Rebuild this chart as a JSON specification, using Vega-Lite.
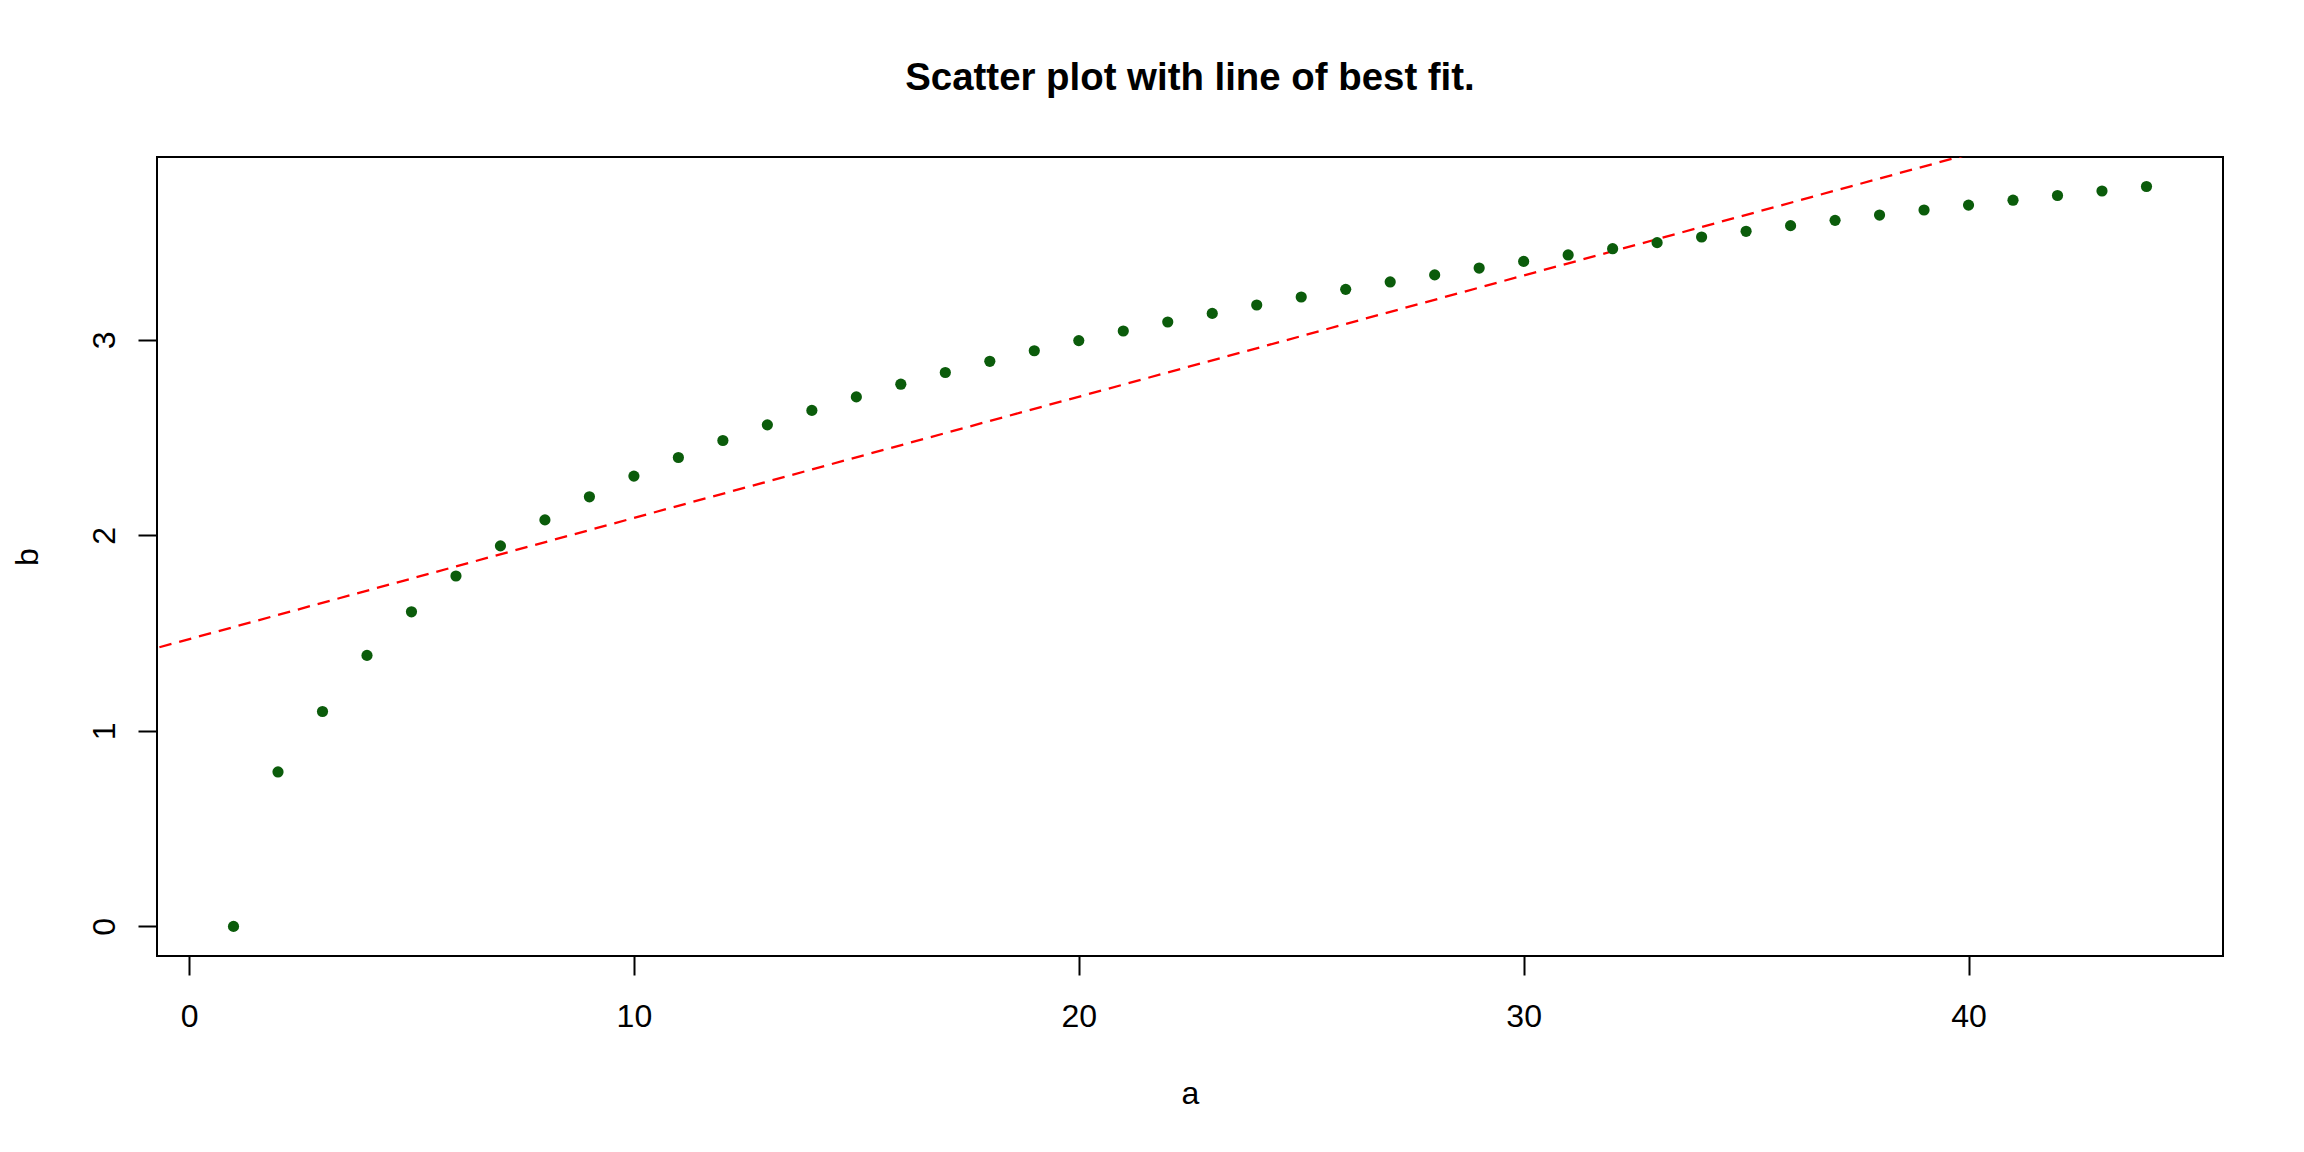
{
  "$schema": "https://vega.github.io/schema/vega-lite/v6.json",
  "description": "Scatter plot of b against a with a dashed line of best fit.",
  "autosize": "none",
  "width": 2066,
  "height": 799,
  "padding": {"left": 157, "top": 157, "right": 81, "bottom": 196},
  "background": "white",
  "title": {
    "text": "Scatter plot with line of best fit.",
    "font": "Liberation Sans",
    "fontSize": 38.4,
    "fontWeight": "bold",
    "color": "black",
    "anchor": "middle",
    "frame": "group",
    "baseline": "alphabetic",
    "offset": 29
  },
  "datasets": {
    "points": [
      {"a": 1, "b": 0},
      {"a": 2, "b": 0.79},
      {"a": 3, "b": 1.099},
      {"a": 4, "b": 1.386},
      {"a": 5, "b": 1.609},
      {"a": 6, "b": 1.792},
      {"a": 7, "b": 1.946},
      {"a": 8, "b": 2.079},
      {"a": 9, "b": 2.197},
      {"a": 10, "b": 2.303},
      {"a": 11, "b": 2.398},
      {"a": 12, "b": 2.485},
      {"a": 13, "b": 2.565},
      {"a": 14, "b": 2.639},
      {"a": 15, "b": 2.708},
      {"a": 16, "b": 2.773},
      {"a": 17, "b": 2.833},
      {"a": 18, "b": 2.89},
      {"a": 19, "b": 2.944},
      {"a": 20, "b": 2.996},
      {"a": 21, "b": 3.045},
      {"a": 22, "b": 3.091},
      {"a": 23, "b": 3.135},
      {"a": 24, "b": 3.178},
      {"a": 25, "b": 3.219},
      {"a": 26, "b": 3.258},
      {"a": 27, "b": 3.296},
      {"a": 28, "b": 3.332},
      {"a": 29, "b": 3.367},
      {"a": 30, "b": 3.401},
      {"a": 31, "b": 3.434},
      {"a": 32, "b": 3.466},
      {"a": 33, "b": 3.497},
      {"a": 34, "b": 3.526},
      {"a": 35, "b": 3.555},
      {"a": 36, "b": 3.584},
      {"a": 37, "b": 3.611},
      {"a": 38, "b": 3.638},
      {"a": 39, "b": 3.664},
      {"a": 40, "b": 3.689},
      {"a": 41, "b": 3.714},
      {"a": 42, "b": 3.738},
      {"a": 43, "b": 3.761},
      {"a": 44, "b": 3.784}
    ],
    "fit": [
      {"a": -2, "b": 1.345},
      {"a": 47, "b": 4.383}
    ]
  },
  "encoding": {
    "x": {
      "field": "a",
      "type": "quantitative",
      "scale": {"domain": [-0.72, 45.72], "nice": false, "zero": false},
      "axis": {
        "values": [0, 10, 20, 30, 40],
        "domain": false,
        "grid": false,
        "tickSize": 19,
        "tickWidth": 2,
        "tickColor": "black",
        "labelFont": "Liberation Sans",
        "labelFontSize": 32,
        "labelColor": "black",
        "labelPadding": 26.7,
        "labelFlush": false,
        "labelOverlap": false,
        "title": "a",
        "titleFont": "Liberation Sans",
        "titleFontSize": 32,
        "titleFontWeight": "normal",
        "titleColor": "black",
        "titleX": 1033,
        "titleY": 147,
        "titleAlign": "center",
        "titleBaseline": "alphabetic"
      }
    },
    "y": {
      "field": "b",
      "type": "quantitative",
      "scale": {"domain": [-0.1514, 3.935], "nice": false, "zero": false},
      "axis": {
        "values": [0, 1, 2, 3],
        "domain": false,
        "grid": false,
        "tickSize": 19,
        "tickWidth": 2,
        "tickColor": "black",
        "labelFont": "Liberation Sans",
        "labelFontSize": 32,
        "labelColor": "black",
        "labelAngle": -90,
        "labelAlign": "center",
        "labelBaseline": "alphabetic",
        "labelPadding": 24,
        "labelFlush": false,
        "labelOverlap": false,
        "title": "b",
        "titleFont": "Liberation Sans",
        "titleFontSize": 32,
        "titleFontWeight": "normal",
        "titleColor": "black",
        "titleAngle": -90,
        "titleX": -120,
        "titleY": 399.5,
        "titleAlign": "center",
        "titleBaseline": "alphabetic"
      }
    }
  },
  "layer": [
    {
      "data": {"name": "fit"},
      "mark": {
        "type": "line",
        "color": "red",
        "strokeWidth": 2.3,
        "strokeDash": [12.5, 8],
        "clip": true
      }
    },
    {
      "data": {"name": "points"},
      "mark": {
        "type": "circle",
        "color": "#0b5c0b",
        "size": 125,
        "opacity": 1
      }
    }
  ],
  "config": {
    "view": {"stroke": "black", "strokeWidth": 2}
  }
}
